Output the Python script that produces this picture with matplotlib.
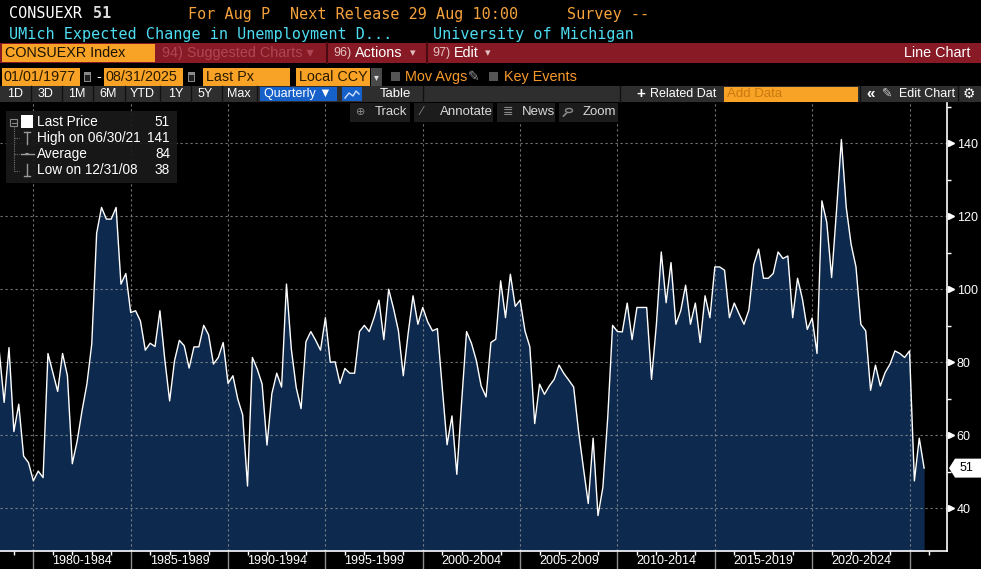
import numpy as np
import matplotlib
matplotlib.use('Agg')
import matplotlib.pyplot as plt
import matplotlib.transforms as mtransforms
from matplotlib.patches import Rectangle, Polygon, Circle
from matplotlib.lines import Line2D

# UMich expected change in unemployment, quarterly 1978Q1 .. 2025Q3
values = [
    83, 69, 84, 61, 68.5, 54.3, 52.5, 47.5, 50.2, 48.4,
    82.4, 77.2, 72, 82.4, 76.3, 52.2, 58.4, 66.7, 74, 85,
    115.3, 122.4, 119.2, 119.2, 122.4, 101.4, 104.3, 93.6, 94.1, 91.3,
    83.3, 85.2, 84.3, 94.1, 80.8, 69.4, 80.4, 86, 84.5, 78.4,
    84.2, 84.2, 90.1, 87.5, 79.5, 81.3, 85.4, 74.2, 76.3, 69.9,
    65.6, 46.1, 81.3, 78.1, 74, 57.3, 71.4, 77, 73.2, 101.4,
    83.6, 73.1, 67.3, 85.6, 88.4, 86, 83.3, 92.2, 80, 80.1,
    74.2, 78.3, 77, 77, 88.4, 90.1, 88.4, 92.2, 97, 86.2,
    100, 94.7, 88.6, 76.3, 87.9, 98.2, 90.4, 95, 91.1, 88.6,
    89.2, 73.1, 57.4, 65.3, 49.3, 69.4, 88.4, 85.2, 80.5, 73.5,
    70.5, 85.4, 86.3, 102.3, 92.2, 104.1, 95.3, 97, 88.6, 84.2,
    63.2, 74, 71.2, 73.5, 75.3, 79.2, 76.9, 75.1, 73.2, 61.2,
    51.1, 41.3, 59.2, 38, 45.7, 64.8, 90.1, 88.4, 88.3, 96.2,
    86.2, 95, 95, 95, 75.3, 90.4, 110.2, 96.3, 107.3, 90.4,
    94.1, 101.1, 90.4, 96.2, 85.4, 98.2, 92.2, 106.1, 106.1, 105.2,
    92.2, 96.2, 93.2, 90.4, 94.3, 106.7, 111, 103, 103, 104.3,
    110.2, 108.4, 109.1, 92.2, 103, 97.3, 89, 92.1, 82.4, 124.2,
    118.3, 103.2, 121.5, 141, 122.4, 112.3, 106.1, 90.4, 88.6, 72.3,
    79.2, 73.5, 77.2, 79.5, 83.1, 82.4, 81.3, 83.1, 47.5, 59.2, 51,
]
start_year = 1978
period_labels = ['1980-1984', '1985-1989', '1990-1994', '1995-1999', '2000-2004',
                 '2005-2009', '2010-2014', '2015-2019', '2020-2024']
period_starts = [1980, 1985, 1990, 1995, 2000, 2005, 2010, 2015, 2020]
y_major = [40, 60, 80, 100, 120, 140]
y_minor = [50, 70, 90, 110, 130, 150]
legend_rows = [('Last Price', '51'), ('High on 06/30/21', '141'),
               ('Average', '84'), ('Low on 12/31/08', '38')]
last_px = values[-1]

# quarter-end dates as decimal years
t = start_year + 0.25 * (np.arange(len(values)) + 1)

W, H = 981, 569
fig = plt.figure(figsize=(W / 100, H / 100), dpi=100, facecolor='black')

SANS = ['Liberation Sans', 'DejaVu Sans']
MONO = ['DejaVu Sans Mono']
ORANGE = '#f5a23c'
BOX = '#f8a325'


def fx(x):
    return x / W


def fy(y):
    return 1 - y / H


def rect(x0, y0, x1, y1, color, **kw):
    fig.patches.append(Rectangle((fx(x0), fy(y1)), (x1 - x0) / W, (y1 - y0) / H,
                                 transform=fig.transFigure, facecolor=color,
                                 edgecolor=kw.pop('ec', 'none'), **kw))


def label(x, y, s, color='white', size=10, ha='left', family=SANS, **kw):
    fig.text(fx(x), fy(y), s, color=color, fontsize=size, ha=ha, va='center',
             family=family, **kw)


def seg(xs, ys, color, lw=1, **kw):
    fig.lines.append(Line2D([fx(v) for v in xs], [fy(v) for v in ys],
                            transform=fig.transFigure, color=color, lw=lw, **kw))


# ---- chart ----
ax = fig.add_axes([0, fy(551), 947 / W, (551 - 103) / H])
ax.set_facecolor('black')
ylo, yhi = 28.3, 151
ax.set_xlim(1978.287, 2026.925)
ax.set_ylim(ylo, yhi)

ax.fill_between(t, values, ylo, color='#0d2a4e', lw=0, zorder=1)
ax.plot(t, values, color='white', lw=1.0, zorder=4)

for v in y_major:
    ax.axhline(v, color='#9a9a9a', lw=0.8, ls=(0, (2, 2.5)), alpha=0.75, zorder=2)
for yr in period_starts + [2025]:
    ax.axvline(yr, color='#9a9a9a', lw=0.8, ls=(0, (2, 2.5)), alpha=0.75, zorder=2)

for s in ['left', 'top']:
    ax.spines[s].set_visible(False)
for s in ['right', 'bottom']:
    ax.spines[s].set_color('white')
    ax.spines[s].set_linewidth(1.2)

ax.set_xticks(period_starts + [2025])
ax.set_xticklabels([])
ax.set_xticks(np.arange(1979, 2027), minor=True)
ax.tick_params(axis='x', which='major', length=14, width=1, color='#8c8c8c', direction='out')
ax.tick_params(axis='x', which='minor', length=3, width=1, color='white', direction='out')

ax.yaxis.tick_right()
ax.set_yticks(y_major)
ax.set_yticks(y_minor, minor=True)
ax.tick_params(axis='y', which='major', length=0, pad=7, labelsize=9, labelcolor='white')
ax.tick_params(axis='y', which='minor', length=3, width=1, color='white', direction='out')
for lab in ax.get_yticklabels():
    lab.set_family(SANS)

ytrans = mtransforms.blended_transform_factory(ax.transAxes, ax.transData)
ax.plot([1.0045] * len(y_major), y_major, ls='none', marker='>', ms=5,
        color='white', transform=ytrans, clip_on=False, zorder=5)

xtrans = mtransforms.blended_transform_factory(ax.transData, ax.transAxes)
for yr, txt in zip(period_starts, period_labels):
    ax.text(yr + 2.5, -9.5 / 448, txt, transform=xtrans, ha='center', va='center',
            color='white', fontsize=9, family=SANS, clip_on=False)

# last price tag
tag = Polygon([(949 / 947, last_px), (955 / 947, last_px + 2.6), (1.04, last_px + 2.6),
               (1.04, last_px - 2.6), (955 / 947, last_px - 2.6)],
              closed=True, transform=ytrans, facecolor='white', edgecolor='none',
              clip_on=False, zorder=6)
ax.add_patch(tag)
ax.text(966 / 947, last_px, f'{last_px:.0f}', transform=ytrans, ha='center',
        va='center', color='black', fontsize=9, family=SANS, clip_on=False, zorder=7)

# ---- header rows ----
label(9, 14, 'CONSUEXR', 'white', 10.9, family=MONO)
label(93, 14, '51', '#d8d8d8', 10.9, family=MONO, weight='bold')
label(188, 14, 'For Aug P', ORANGE, 10.9, family=MONO)
label(290, 14, 'Next Release 29 Aug 10:00', ORANGE, 10.9, family=MONO)
label(567, 14, 'Survey --', ORANGE, 10.9, family=MONO)
label(9, 34, 'UMich Expected Change in Unemployment D...', '#4ddcf2', 10.9, family=MONO)
label(433, 34, 'University of Michigan', '#4ddcf2', 10.9, family=MONO)

rect(0, 43, W, 63, '#881a25')
rect(2, 44, 155, 62, BOX)
label(5, 53, 'CONSUEXR Index', '#1a1206', 10.4)
label(162, 53, '94) Suggested Charts ▾', '#b04654', 10.4)
seg([327, 327], [43, 63], '#4a0a12', 1.5)
seg([427, 427], [43, 63], '#4a0a12', 1.5)
label(333, 53, '96)', '#e6c4c4', 9)
label(355, 53, 'Actions', 'white', 10.4)
label(410, 53, '▾', '#e0c0c0', 8)
label(432, 53, '97)', '#e6c4c4', 9)
label(454, 53, 'Edit', 'white', 10.4)
label(485, 53, '▾', '#e0c0c0', 8)
label(970, 53, 'Line Chart', 'white', 10.4, ha='right')

# date / settings row
rect(2, 68, 80, 86, BOX)
label(4, 77, '01/01/1977', '#2a1a00', 10.4)
rect(84, 72, 91, 82, '#8a8a8a')
rect(85, 75, 90, 81, '#202020')
label(96, 77, '-', 'white', 10.4)
rect(104, 68, 183, 86, BOX)
label(106, 77, '08/31/2025', '#2a1a00', 10.4)
rect(188, 72, 195, 82, '#8a8a8a')
rect(189, 75, 194, 81, '#202020')
rect(203, 68, 290, 86, BOX)
label(206, 77, 'Last Px', '#2a1a00', 10.4)
rect(296, 68, 370, 86, BOX)
label(299, 77, 'Local CCY', '#2a1a00', 10.4)
rect(371, 68, 382, 86, '#4a4a4a')
label(376.5, 77, '▾', '#dddddd', 7, ha='center')
rect(391, 72, 400, 81, '#555555')
label(405, 77, 'Mov Avgs', '#f79a2a', 10.4)
label(468, 77, '✎', '#9a9a9a', 10)
rect(489, 72, 498, 81, '#555555')
label(504, 77, 'Key Events', '#f79a2a', 10.4)

# range / frequency row
rect(0, 86, W, 102, '#2e2e2e')
for xs in [31, 62, 93, 125, 160, 191, 222, 257, 423, 620, 860, 958]:
    seg([xs, xs], [86, 102], '#111111', 1)
for xc, s in zip([15, 46, 77, 108, 142, 176, 205, 239],
                 ['1D', '3D', '1M', '6M', 'YTD', '1Y', '5Y', 'Max']):
    label(xc, 94, s, 'white', 9, ha='center')
rect(260, 87, 337, 101, '#1560c9')
label(264, 94, 'Quarterly ▼', 'white', 9)
rect(342, 87, 362, 101, '#1560c9')
seg([345, 349, 353, 356, 359], [98, 93, 96, 91, 94], '#cfe0ff', 1)
label(395, 94, 'Table', 'white', 9.5, ha='center')
label(636, 94, '+', 'white', 11, weight='bold')
label(650, 94, 'Related Dat', 'white', 9)
rect(724, 87, 858, 102, BOX)
label(727, 94, 'Add Data', '#c87a10', 9.5)
label(866, 94, '«', 'white', 11, weight='bold')
label(882, 94, '✎', '#cccccc', 9)
label(899, 94, 'Edit Chart', 'white', 9)
label(969, 94, '⚙', 'white', 10, ha='center')

# chart toolbar
for x0, x1 in [(350, 410), (414, 493), (497, 555), (559, 618)]:
    rect(x0, 103, x1, 122, '#1c1c1c')
label(356, 112, '⊕', '#8a8a8a', 8)
label(375, 112, 'Track', '#d8d8d8', 9.5)
label(421, 112, '∕', '#8a8a8a', 9)
label(440, 112, 'Annotate', '#d8d8d8', 9.5)
label(503, 112, '≣', '#8a8a8a', 9)
label(522, 112, 'News', '#d8d8d8', 9.5)
fig.patches.append(Circle((fx(569), fy(110.5)), 3.5 / W, transform=fig.transFigure,
                          facecolor='none', edgecolor='#8a8a8a', lw=1))
seg([566.5, 563.5], [113, 116], '#8a8a8a', 1.2)
label(583, 112, 'Zoom', '#d8d8d8', 9.5)

# ---- legend box ----
rect(6, 111, 177, 183, '#1a1a1a', alpha=0.92)
fig.patches.append(Rectangle((fx(10), fy(126)), 7 / W, 7 / H, transform=fig.transFigure,
                             facecolor='none', edgecolor='#8a8a8a', lw=0.8))
seg([11.5, 15.5], [122.5, 122.5], '#8a8a8a', 0.8)
seg([13.5, 13.5], [126, 171], '#777777', 0.8, ls=(0, (1, 1)))
for yy in [138, 154, 171]:
    seg([13.5, 19], [yy, yy], '#777777', 0.8, ls=(0, (1, 1)))
rect(21, 115, 33, 128, 'white')
seg([27, 27], [132, 144], '#9a9a9a', 1)
seg([24, 30], [132, 132], '#9a9a9a', 1)
seg([21, 34], [154, 154], '#9a9a9a', 1)
fig.patches.append(Circle((fx(27), fy(154)), 2 / W, transform=fig.transFigure,
                          facecolor='#9a9a9a', edgecolor='none'))
seg([27, 27], [164, 176], '#9a9a9a', 1)
seg([24, 30], [176, 176], '#9a9a9a', 1)
for (name, val), yy in zip(legend_rows, [122, 138, 154, 170]):
    label(37, yy, name, 'white', 9.8)
    label(170, yy, val, 'white', 9.8, ha='right')

fig.savefig('out.png', dpi=100, facecolor='black')
